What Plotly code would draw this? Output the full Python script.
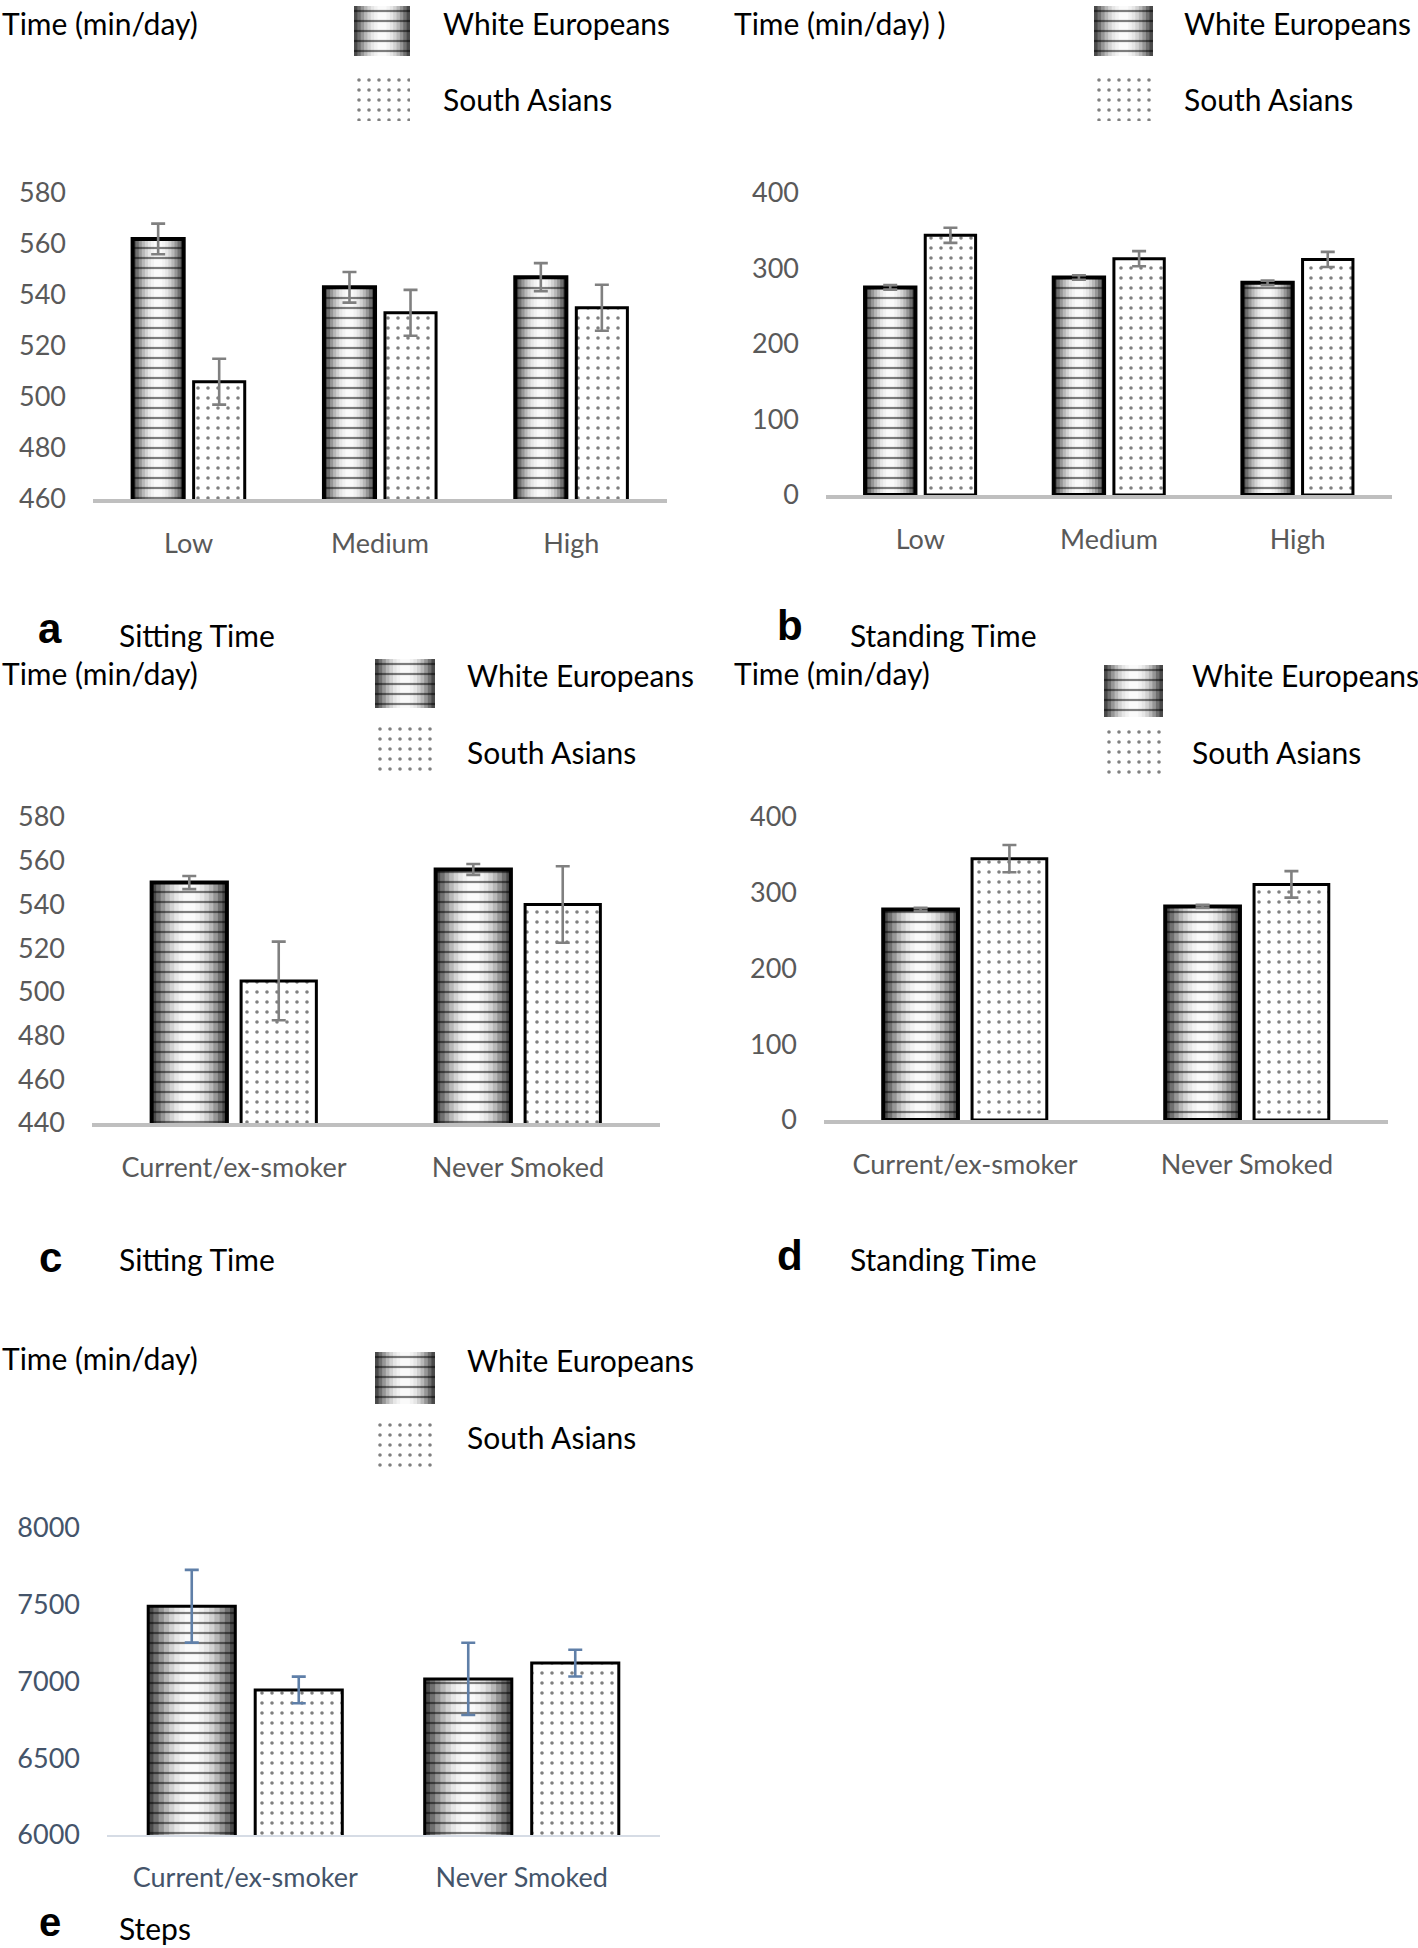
import plotly.graph_objects as go

W, H = 1418, 1948

# ---------------- data ----------------
income_cats = ["Low", "Medium", "High"]
smoke_cats = ["Current/ex-smoker", "Never Smoked"]
series_names = ["White Europeans", "South Asians"]

sit_income_we = [562, 543, 547]
sit_income_we_err = [6, 6, 5.5]
sit_income_sa = [506, 533, 535]
sit_income_sa_err = [9, 9, 9]

stand_income_we = [275, 288, 281]
stand_income_we_err = [3, 3, 3]
stand_income_sa = [344, 313, 312]
stand_income_sa_err = [10, 10, 10]

sit_smoke_we = [550, 556]
sit_smoke_we_err = [3, 2.5]
sit_smoke_sa = [505, 540]
sit_smoke_sa_err = [18, 17.5]

stand_smoke_we = [278, 282]
stand_smoke_we_err = [2, 2]
stand_smoke_sa = [345, 311]
stand_smoke_sa_err = [18, 17.5]

steps_smoke_we = [7490, 7017]
steps_smoke_we_err = [237, 235]
steps_smoke_sa = [6945, 7120]
steps_smoke_sa_err = [87, 87]

swatch_value = [1]

# ---------------- styling ----------------
FONT = "Lato"
TICK_GRAY = "#595959"
STEP_BLUE = "#44546a"
GRAD = [(1.0, "#4a4a4a"), (0.88, "#707070"), (0.76, "#969696"), (0.64, "#b8b8b8"),
        (0.52, "#d2d2d2"), (0.40, "#e6e6e6"), (0.28, "#f2f2f2"), (0.16, "#fafafa")]

fig = go.Figure()
layout = {}
annotations = []


def px_x(x):
    return x / W


def px_y(y):
    return 1 - y / H


def text(x, y, s, size=30, color="black", bold=False, xanchor="left", family=FONT):
    annotations.append(dict(
        x=px_x(x), y=px_y(y), xref="paper", yref="paper", text=f"<b>{s}</b>" if bold else s,
        showarrow=False, xanchor=xanchor, yanchor="middle",
        font=dict(family=family, size=size, color=color)))


def add_we(axn, x, y, width, offset, err=None, errcolor="#808080", lw=4, capw=7, errthick=2.6,
           psize=10, psol=0.22):
    xa, ya = f"x{axn}", f"y{axn}"
    for f, c in GRAD:
        fig.add_trace(go.Bar(
            x=x, y=y, width=width * f,
            offset=None if offset is None else offset + width * (1 - f) / 2,
            marker=dict(color=c, line=dict(width=0)), xaxis=xa, yaxis=ya,
            showlegend=False, hoverinfo="skip"))
    fig.add_trace(go.Bar(
        x=x, y=y, width=width, offset=offset, name=series_names[0],
        marker=dict(color="rgba(0,0,0,0)",
                    line=dict(color="black", width=lw),
                    pattern=dict(shape="-", fgcolor="black", bgcolor="rgba(0,0,0,0)",
                                 size=psize, solidity=psol)),
        error_y=None if err is None else dict(type="data", array=err, color=errcolor,
                                              thickness=errthick, width=capw),
        xaxis=xa, yaxis=ya, showlegend=False, hoverinfo="skip"))


def add_sa(axn, x, y, width, offset, err=None, errcolor="#808080", lw=3, capw=7, errthick=2.6,
           psize=10, psol=0.1):
    xa, ya = f"x{axn}", f"y{axn}"
    fig.add_trace(go.Bar(
        x=x, y=y, width=width, offset=offset, name=series_names[1],
        marker=dict(color="white",
                    line=dict(color="black" if lw else "rgba(0,0,0,0)", width=lw),
                    pattern=dict(shape=".", fgcolor="black", bgcolor="white",
                                 size=psize, solidity=psol)),
        error_y=None if err is None else dict(type="data", array=err, color=errcolor,
                                              thickness=errthick, width=capw),
        xaxis=xa, yaxis=ya, showlegend=False, hoverinfo="skip"))


axis_counter = [0]


def new_axes(xdom, ydom, **kw):
    axis_counter[0] += 1
    n = axis_counter[0]
    key = "" if n == 1 else str(n)
    layout[f"xaxis{key}"] = dict(domain=[px_x(xdom[0]), px_x(xdom[1])], anchor=f"y{key}",
                                 automargin=False, **kw.get("xa", {}))
    layout[f"yaxis{key}"] = dict(domain=[px_y(ydom[1]), px_y(ydom[0])], anchor=f"x{key}",
                                 automargin=False, **kw.get("ya", {}))
    return key


def panel(xdom, ydom, cats, we, we_err, sa, sa_err, yrange, dtick, bw, gap,
          tickcolor=TICK_GRAY, errcolor="#808080", linecolor="#bfbfbf", linewidth=4,
          we_lw=4, sa_lw=3):
    key = new_axes(xdom, ydom,
                   xa=dict(type="category", range=[-0.5, len(cats) - 0.5], showline=True,
                           linecolor=linecolor, linewidth=linewidth, ticks="", showgrid=False,
                           zeroline=False, tickfont=dict(family=FONT, size=27, color=tickcolor),
                           ticklabelstandoff=18, fixedrange=True),
                   ya=dict(range=yrange, dtick=dtick, showline=False, ticks="", showgrid=False,
                           zeroline=False, tickfont=dict(family=FONT, size=27, color=tickcolor),
                           ticklabelstandoff=26, fixedrange=True))
    add_we(key, cats, we, bw, -(gap / 2 + bw), we_err, errcolor=errcolor, lw=we_lw)
    add_sa(key, cats, sa, bw, gap / 2, sa_err, errcolor=errcolor, lw=sa_lw)


def swatch(kind, x0, x1, y0, y1):
    key = new_axes((x0, x1), (y0, y1),
                   xa=dict(range=[0, 1], visible=False, fixedrange=True),
                   ya=dict(range=[0, 1], visible=False, fixedrange=True))
    if kind == "we":
        add_we(key, [0.5], swatch_value, 1.0, None, lw=0, psize=10, psol=0.22)
    else:
        add_sa(key, [0.5], swatch_value, 1.0, None, lw=0)


# ---------------- panels ----------------
panel((93, 667), (193, 499), income_cats, sit_income_we, sit_income_we_err,
      sit_income_sa, sit_income_sa_err, [460, 580], 20, 0.267, 0.052)
panel((826, 1392), (193, 495), income_cats, stand_income_we, stand_income_we_err,
      stand_income_sa, stand_income_sa_err, [0, 400], 100, 0.267, 0.052)
panel((92, 660), (817, 1123), smoke_cats, sit_smoke_we, sit_smoke_we_err,
      sit_smoke_sa, sit_smoke_sa_err, [440, 580], 20, 0.265, 0.05)
panel((824, 1388), (817, 1120), smoke_cats, stand_smoke_we, stand_smoke_we_err,
      stand_smoke_sa, stand_smoke_sa_err, [0, 400], 100, 0.265, 0.05)
panel((107, 660), (1528, 1835), smoke_cats, steps_smoke_we, steps_smoke_we_err,
      steps_smoke_sa, steps_smoke_sa_err, [6000, 8000], 500, 0.315, 0.072,
      tickcolor=STEP_BLUE, errcolor="#5f7fa8", linecolor="#d6dce5", linewidth=2,
      we_lw=3, sa_lw=3)

# ---------------- legend swatches ----------------
swatch("we", 354, 410, 6, 56)
swatch("sa", 354, 410, 75, 121)
swatch("we", 1094, 1153, 6, 56)
swatch("sa", 1094, 1153, 75, 121)
swatch("we", 375, 435, 659, 708)
swatch("sa", 375, 435, 724, 773)
swatch("we", 1104, 1163, 665, 717)
swatch("sa", 1104, 1163, 727, 777)
swatch("we", 375, 435, 1352, 1404)
swatch("sa", 375, 435, 1420, 1473)

# ---------------- texts ----------------
text(0, 23, "Time (min/day)")
text(441, 23, series_names[0])
text(441, 99, series_names[1])
text(732, 23, "Time (min/day) )")
text(1182, 23, series_names[0])
text(1182, 99, series_names[1])

text(0, 673, "Time (min/day)")
text(465, 675, series_names[0])
text(465, 752, series_names[1])
text(732, 673, "Time (min/day)")
text(1190, 675, series_names[0])
text(1190, 752, series_names[1])

text(0, 1358, "Time (min/day)")
text(465, 1360, series_names[0])
text(465, 1437, series_names[1])

text(50, 628, "a", size=42, bold=True, xanchor="center", family="Liberation Sans")
text(117, 635, "Sitting Time")
text(790, 626, "b", size=42, bold=True, xanchor="center", family="Liberation Sans")
text(848, 635, "Standing Time")
text(50, 1257, "c", size=42, bold=True, xanchor="center", family="Liberation Sans")
text(117, 1259, "Sitting Time")
text(790, 1255, "d", size=42, bold=True, xanchor="center", family="Liberation Sans")
text(848, 1259, "Standing Time")
text(50, 1922, "e", size=40, bold=True, xanchor="center", family="Liberation Sans")
text(117, 1928, "Steps")

fig.update_layout(
    width=W, height=H, margin=dict(l=0, r=0, t=0, b=0, pad=0, autoexpand=False),
    paper_bgcolor="white", plot_bgcolor="rgba(0,0,0,0)",
    barmode="overlay", showlegend=False, font=dict(family=FONT),
    annotations=annotations, **layout)

fig.write_html("out.html", config={"displayModeBar": False},
               post_script="document.body.style.margin='0';document.body.style.padding='0';")
